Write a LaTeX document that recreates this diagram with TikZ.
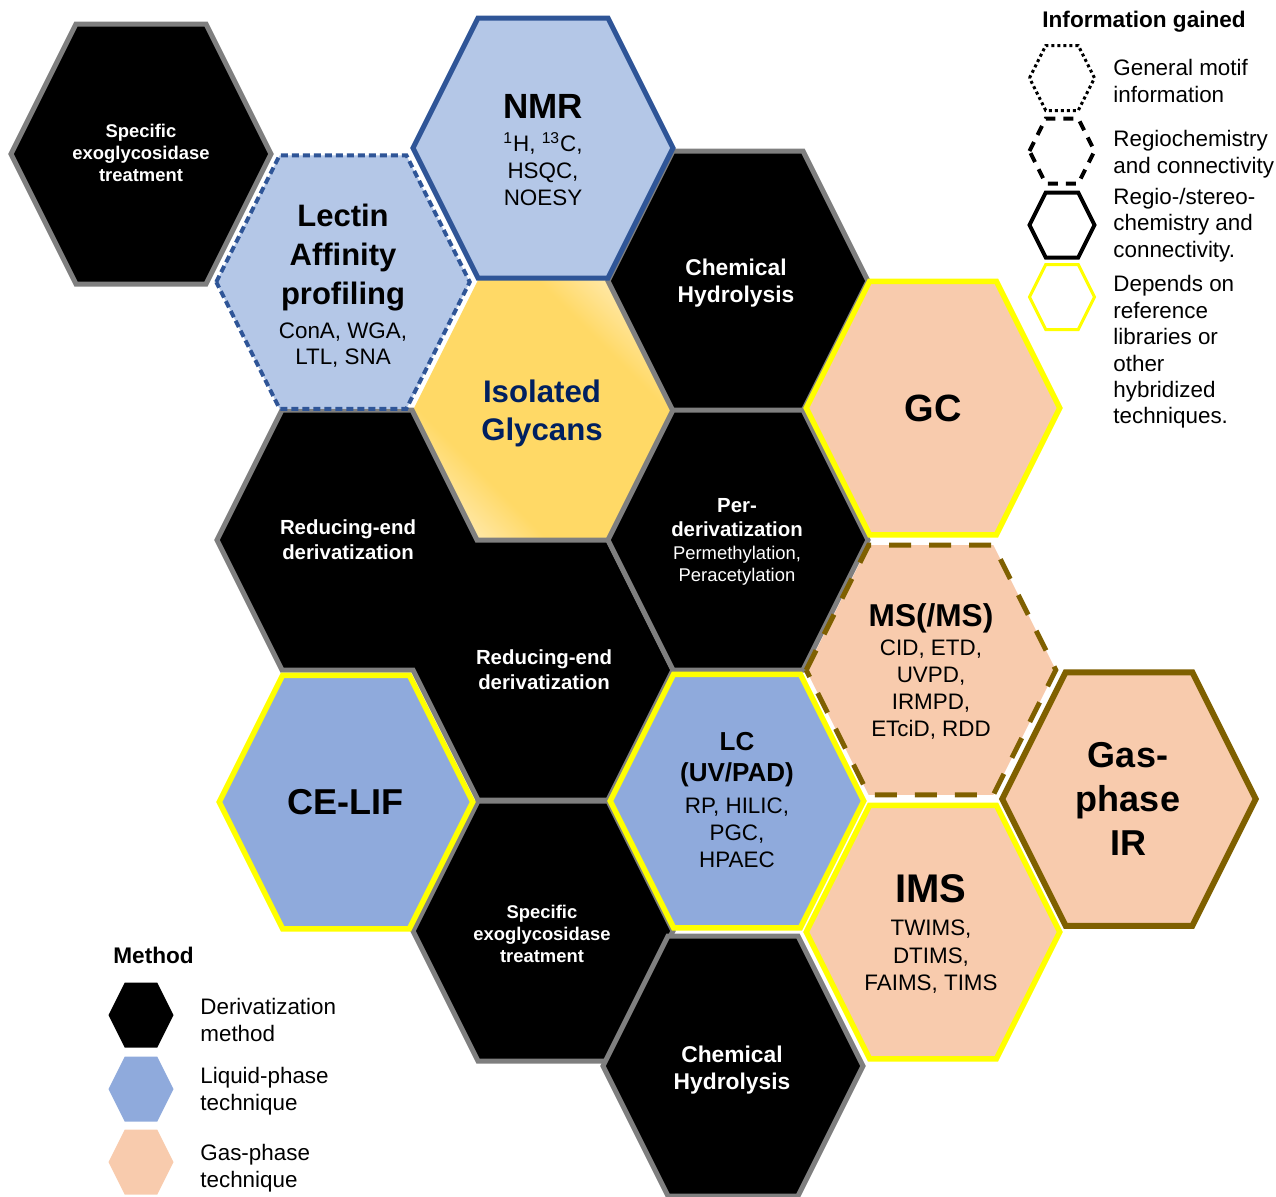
\documentclass[tikz,border=0pt]{standalone}
\usepackage{fontspec}
\setmainfont{Liberation Sans}
\usepackage{tikz}
\usetikzlibrary{positioning}

\definecolor{hexgray}{HTML}{7F7F7F}
\definecolor{liquidlight}{HTML}{B4C7E7}
\definecolor{liquidblue}{HTML}{8FAADC}
\definecolor{nmrblue}{HTML}{2F5597}
\definecolor{gaspeach}{HTML}{F8CBAD}
\definecolor{refyellow}{HTML}{FFFF00}
\definecolor{irbrown}{HTML}{7F6000}
\definecolor{glycangold}{HTML}{FFD966}
\definecolor{glycanlight}{HTML}{FFEAB0}
\definecolor{glycannavy}{HTML}{002060}

\pgfdeclarehorizontalshading{glycanshade}{100bp}{color(0bp)=(glycanlight); color(22bp)=(glycanlight); color(33bp)=(glycangold); color(67bp)=(glycangold); color(78bp)=(glycanlight); color(100bp)=(glycanlight)}

% one honeycomb cell: [style]{centre x}{centre y}
\newcommand{\hexcell}[3][]{%
  \path[shift={(#2,#3)},#1] (-130,0) -- (-65,-130) -- (65,-130) -- (130,0)
    -- (65,130) -- (-65,130) -- cycle;}
\newcommand{\hextitle}[2]{{\bfseries\fontsize{#1}{#1}\selectfont #2}}

\tikzset{
    derivcell/.style={fill=black, draw=hexgray, line width=2.5pt},
    glycancell/.style={shade, shading=glycanshade, shading angle=45},
    liquidcell/.style={fill=liquidblue},
    nmrcell/.style={fill=liquidlight, draw=nmrblue, line width=2.5pt},
    gascell/.style={fill=gaspeach},
    libedge/.style={draw=refyellow, line width=2.75pt, scale=0.975},
    motifedge/.style={draw=nmrblue, line width=2pt, dash pattern=on 3.5pt off 2pt, scale=0.975},
    regioedge/.style={draw=irbrown, line width=2.5pt, dash pattern=on 11pt off 9pt, scale=0.96},
    stereoedge/.style={draw=irbrown, line width=3pt, scale=0.975},
    keycell/.style={scale=0.25},
    derivlabel/.style={text=white, align=center, inner sep=0pt},
    techlabel/.style={text=black, align=center, inner sep=0pt},
    keylabel/.style={align=left, inner sep=0pt, anchor=west,
        font=\fontsize{11.2}{13.2}\selectfont},
    keytitle/.style={anchor=base west, inner sep=0pt,
        font=\bfseries\fontsize{11.3}{13}\selectfont},
}

\begin{document}
\begin{tikzpicture}[x=0.5pt, y=-0.5pt]
\useasboundingbox (0,0) rectangle (1276,1196);

% isolated glycans, below the derivatization cells
\hexcell[glycancell]{543}{410}

% derivatization methods
\hexcell[derivcell]{141}{154}
\hexcell[derivcell]{738}{281}
\path[derivcell] (217,540) -- (282,410) -- (412,410) -- (477,540) -- (608,540)
    -- (673,670) -- (608,800) -- (478,800) -- (413,670) -- (282,670) -- cycle;
\hexcell[derivcell]{738}{540}
\hexcell[derivcell]{543}{931}
\hexcell[derivcell]{733}{1066}

% liquid-phase techniques
\hexcell[nmrcell]{543}{148}
\hexcell[fill=liquidlight, motifedge]{343}{282}
\hexcell[liquidcell, libedge]{346}{802}
\hexcell[liquidcell, libedge]{737}{801}

% gas-phase techniques
\hexcell[gascell, libedge]{933}{408}
\hexcell[gascell, regioedge]{931}{670}
\hexcell[gascell, libedge]{933}{932}
\hexcell[gascell, stereoedge]{1129}{799}

% labels
\node[derivlabel, font=\bfseries\fontsize{9.2}{10.9}\selectfont] (exotop) at (141,153) {Specific\\exoglycosidase\\treatment};
\node[techlabel, font=\fontsize{11.2}{13.3}\selectfont] (nmr) at (543,150) {\hextitle{17.5}{NMR}\\[3.2pt]\textsuperscript{1}H, \textsuperscript{13}C,\\HSQC,\\NOESY};
\node[techlabel, font=\fontsize{11.2}{13.3}\selectfont] (lectin) at (343,286) {\hextitle{15.5}{Lectin}\\[5.9pt]\hextitle{15.5}{Affinity}\\[4.2pt]\hextitle{15.5}{profiling}\\[3.4pt]ConA, WGA,\\LTL, SNA};
\node[derivlabel, font=\bfseries\fontsize{11.4}{13.5}\selectfont] (hydrotop) at (736,283) {Chemical\\Hydrolysis};
\node[techlabel, text=glycannavy, font=\bfseries\fontsize{15.6}{19}\selectfont] (glycans) at (542,413) {Isolated\\Glycans};
\node[techlabel, font=\bfseries\fontsize{19}{22}\selectfont] (gc) at (933,408) {GC};
\node[derivlabel, font=\bfseries\fontsize{10.2}{12.5}\selectfont] (reduceleft) at (348,540) {Reducing-end\\derivatization};
\node[derivlabel, font=\fontsize{9.2}{11}\selectfont] (perderiv) at (737,542) {\hextitle{10.2}{Per-}\\[1pt]\hextitle{10.2}{derivatization}\\[0.5pt]Permethylation,\\Peracetylation};
\node[derivlabel, font=\bfseries\fontsize{10.2}{12.5}\selectfont] (reducemid) at (544,670) {Reducing-end\\derivatization};
\node[techlabel, font=\fontsize{11.2}{13.5}\selectfont] (ms) at (931,671) {\hextitle{15.8}{MS(/MS)}\\[1pt]CID, ETD,\\UVPD,\\IRMPD,\\ETciD, RDD};
\node[techlabel, font=\bfseries\fontsize{18}{22}\selectfont] (celif) at (345,802) {CE-LIF};
\node[techlabel, font=\fontsize{11.2}{13.5}\selectfont] (lc) at (737,800) {\hextitle{13}{LC}\\[2pt]\hextitle{13}{(UV/PAD)}\\[2.5pt]RP, HILIC,\\PGC,\\HPAEC};
\node[techlabel, font=\bfseries\fontsize{18}{22}\selectfont] (gasir) at (1128,799) {Gas-\\phase\\IR};
\node[derivlabel, font=\bfseries\fontsize{9.2}{10.9}\selectfont] (exobottom) at (542,934) {Specific\\exoglycosidase\\treatment};
\node[techlabel, font=\fontsize{11.2}{13.75}\selectfont] (ims) at (931,934) {\hextitle{20}{IMS}\\[2.75pt]TWIMS,\\DTIMS,\\FAIMS, TIMS};
\node[derivlabel, font=\bfseries\fontsize{11.4}{13.5}\selectfont] (hydrobottom) at (732,1070) {Chemical\\Hydrolysis};

% key: information gained
\node[keytitle] (infotitle) at (1042,27) {Information gained};
\hexcell[keycell, draw=black, line width=1.5pt, dash pattern=on 1.5pt off 1.5pt]{1062}{78}
\hexcell[keycell, draw=black, line width=2pt, dash pattern=on 5pt off 4pt]{1062}{151}
\hexcell[keycell, draw=black, line width=2pt]{1062}{225}
\hexcell[keycell, draw=refyellow, line width=1.5pt]{1062}{297}
\node[keylabel] (motifkey) at (1113,81) {General motif\\information};
\node[keylabel] (regiokey) at (1113,154) {Regiochemistry\\and connectivity};
\node[keylabel] (stereokey) at (1113,225) {Regio-/stereo-\\chemistry and\\connectivity.};
\node[keylabel] (librarykey) at (1113,352) {Depends on\\reference\\libraries or\\other\\hybridized\\techniques.};

% key: method
\node[keytitle] (methodtitle) at (113,963) {Method};
\hexcell[keycell, fill=black]{141}{1015}
\hexcell[keycell, fill=liquidblue]{141}{1089}
\hexcell[keycell, fill=gaspeach]{141}{1162}
\node[keylabel] (derivkey) at (200,1020) {Derivatization\\method};
\node[keylabel] (liquidkey) at (200,1091) {Liquid-phase\\technique};
\node[keylabel] (gaskey) at (200,1168) {Gas-phase\\technique};
\end{tikzpicture}
\end{document}
